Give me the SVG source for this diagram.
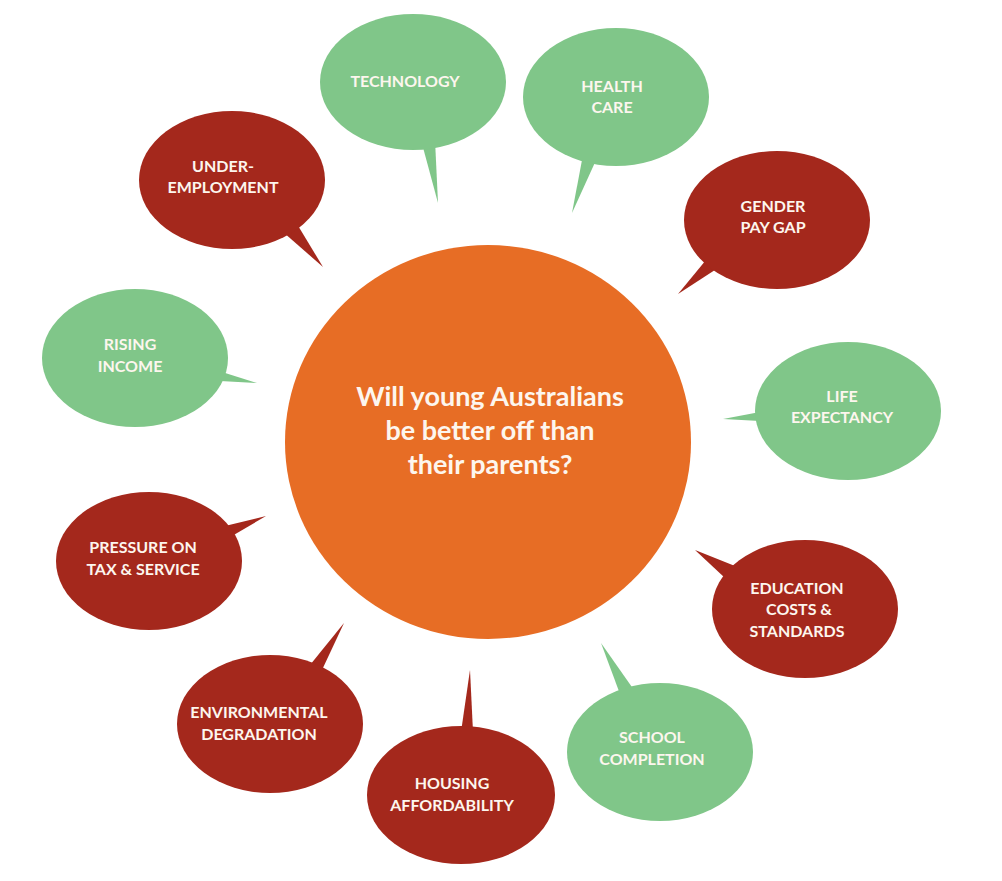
<svg xmlns="http://www.w3.org/2000/svg" width="1002" height="881" viewBox="0 0 1002 881">
<style>
.g{fill:#80c689}
.r{fill:#a4281c}
.c{fill:#e76d25}
.t{font-family:Lato,"Liberation Sans",sans-serif;font-weight:700;font-size:16px;fill:#fdf6ee;text-anchor:middle}
.m{font-family:Lato,"Liberation Sans",sans-serif;font-weight:700;font-size:27px;fill:#fdf6ee;text-anchor:middle}
</style>
<rect width="1002" height="881" fill="#ffffff"/>
<g id="center">
<ellipse class="c" cx="488" cy="442" rx="203" ry="197"/>
<text class="m" x="490" y="406">Will young Australians</text>
<text class="m" x="490" y="440">be better off than</text>
<text class="m" x="490" y="474">their parents?</text>
</g>
<g id="connectors">
<polygon class="g" points="421,140 435,140 438,203"/>
<polygon class="r" points="283,232 297,224 323,267"/>
<polygon class="g" points="582,160 597,158 572,213"/>
<polygon class="r" points="706,260 718,268 678,294"/>
<polygon class="g" points="222,372 220,381 257,383"/>
<polygon class="r" points="225,526 232,536 266,516"/>
<polygon class="g" points="760,412 760,421 723,419"/>
<polygon class="r" points="725,578 735,566 695,550"/>
<polygon class="r" points="310,665 322,670 344,623"/>
<polygon class="r" points="461,732 473,732 470,670"/>
<polygon class="g" points="620,694 634,690 601,643"/>
</g>
<g id="technology">
<ellipse class="g" cx="413" cy="82" rx="93" ry="68"/>
<text class="t" x="405" y="87">TECHNOLOGY</text>
</g>
<g id="underemployment">
<ellipse class="r" cx="232" cy="180" rx="93" ry="69"/>
<text class="t" x="223" y="172">UNDER-</text>
<text class="t" x="223" y="193">EMPLOYMENT</text>
</g>
<g id="healthcare">
<ellipse class="g" cx="616" cy="97" rx="93" ry="69"/>
<text class="t" x="612" y="92">HEALTH</text>
<text class="t" x="612" y="113">CARE</text>
</g>
<g id="genderpaygap">
<ellipse class="r" cx="777" cy="220" rx="93" ry="69"/>
<text class="t" x="773" y="212">GENDER</text>
<text class="t" x="773" y="233">PAY GAP</text>
</g>
<g id="risingincome">
<ellipse class="g" cx="135" cy="358" rx="93" ry="69"/>
<text class="t" x="130" y="350">RISING</text>
<text class="t" x="130" y="372">INCOME</text>
</g>
<g id="pressure">
<ellipse class="r" cx="149" cy="561" rx="93" ry="69"/>
<text class="t" x="143" y="553">PRESSURE ON</text>
<text class="t" x="143" y="575">TAX &amp; SERVICE</text>
</g>
<g id="lifeexpectancy">
<ellipse class="g" cx="848" cy="411" rx="93" ry="69"/>
<text class="t" x="842" y="402">LIFE</text>
<text class="t" x="842" y="423">EXPECTANCY</text>
</g>
<g id="education">
<ellipse class="r" cx="805" cy="609" rx="93" ry="69"/>
<text class="t" x="797" y="594">EDUCATION</text>
<text class="t" x="799" y="615">COSTS &amp;</text>
<text class="t" x="797" y="637">STANDARDS</text>
</g>
<g id="environmental">
<ellipse class="r" cx="270" cy="724" rx="93" ry="69"/>
<text class="t" x="259" y="718">ENVIRONMENTAL</text>
<text class="t" x="259" y="740">DEGRADATION</text>
</g>
<g id="housing">
<ellipse class="r" cx="461" cy="795" rx="94" ry="69"/>
<text class="t" x="452" y="789">HOUSING</text>
<text class="t" x="452" y="811">AFFORDABILITY</text>
</g>
<g id="school">
<ellipse class="g" cx="660" cy="752" rx="93" ry="69"/>
<text class="t" x="652" y="743">SCHOOL</text>
<text class="t" x="652" y="765">COMPLETION</text>
</g>
</svg>
